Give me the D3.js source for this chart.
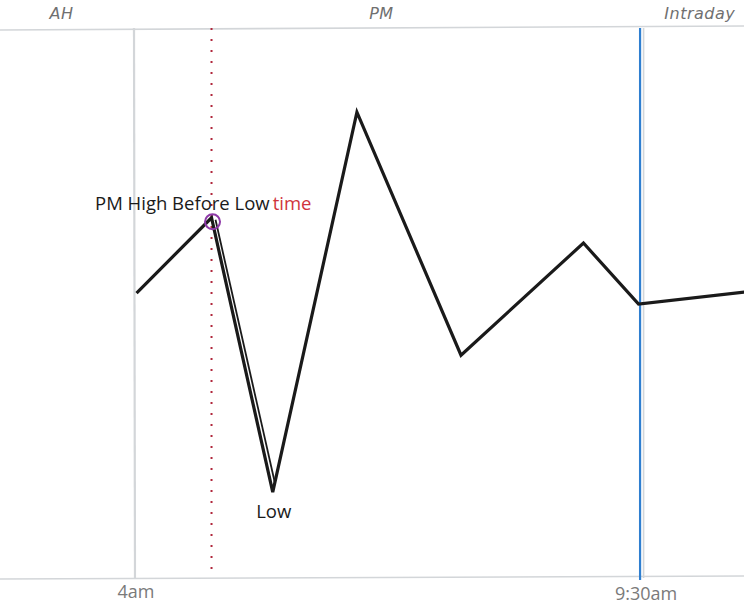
<!DOCTYPE html>
<html><head><meta charset="utf-8">
<script src="https://cdn.jsdelivr.net/npm/d3@7"></script>
<style>body{margin:0;background:#fff}svg{display:block}</style>
</head><body>
<svg id="c" width="744" height="606"></svg>
<script>
// time in minutes since midnight
const times = [241, 290, 330, 385, 453, 533, 569, 638];
const prices = [51.8, 65.5, 15.6, 84.7, 40.5, 60.9, 49.8, 52.0];
const sessionLabels = ["AH", "PM", "Intraday"];
const sessionLabelTimes = [192, 401, 609];
const tickTimes = [240, 570];
const tickLabels = ["4am", "9:30am"];
const markerTime = 290;
const highIndex = 1, lowIndex = 2;

const svg = d3.select("#c");
const x = d3.scaleLinear().domain([151.8, 637.9]).range([0, 744]);
const y = d3.scaleLinear().domain([0, 100]).range([578, 28]);

const grey = "#d3d6d9";
// frame lines
svg.append("line").attr("x1", 0).attr("y1", 30).attr("x2", 744).attr("y2", 26)
  .attr("stroke", grey).attr("stroke-width", 1.6);
svg.append("line").attr("x1", 0).attr("y1", 579).attr("x2", 744).attr("y2", 576)
  .attr("stroke", grey).attr("stroke-width", 1.6);
// session separators
svg.append("line").attr("x1", x(240) - 1).attr("y1", 28).attr("x2", x(240)).attr("y2", 578)
  .attr("stroke", grey).attr("stroke-width", 2.2);
svg.append("line").attr("x1", x(tickTimes[1]) + 3.5).attr("y1", 28).attr("x2", x(tickTimes[1]) + 3.5).attr("y2", 578)
  .attr("stroke", grey).attr("stroke-width", 1.6);
svg.append("line").attr("x1", x(tickTimes[1])).attr("y1", 28).attr("x2", x(tickTimes[1])).attr("y2", 580)
  .attr("stroke", "#2f7fd0").attr("stroke-width", 2.2);
// red dotted marker
svg.append("line").attr("x1", x(markerTime)).attr("y1", 28).attr("x2", x(markerTime)).attr("y2", 578)
  .attr("stroke", "#b0283c").attr("stroke-width", 2).attr("stroke-dasharray", "2,9");

// session labels
svg.selectAll(".sess").data(sessionLabels).enter().append("text")
  .attr("x", (d, i) => x(sessionLabelTimes[i])).attr("y", 19)
  .attr("text-anchor", "middle").attr("font-family", "DejaVu Sans").attr("font-style", "italic")
  .attr("font-size", 16).attr("fill", "#707070").attr("letter-spacing", 0.5).text(d => d);

// tick labels
svg.selectAll(".tick").data(tickLabels).enter().append("text")
  .attr("x", (d, i) => x(tickTimes[i]) + (i ? 6 : 1)).attr("y", (d, i) => i ? 600 : 598)
  .attr("text-anchor", "middle").attr("font-family", "Open Sans").attr("font-size", 18)
  .attr("fill", "#7a7a7a").text(d => d);

// price line
const pts = times.map((t, i) => [x(t), y(prices[i])]);
const line = d3.line();
svg.append("path").attr("d", line(pts)).attr("fill", "none").attr("stroke", "#1a1a1a")
  .attr("stroke-width", 3.2).attr("stroke-linejoin", "miter");
// sketchy double stroke on drop
svg.append("path").attr("d", line([[pts[1][0] + 4, pts[1][1] + 2], [pts[2][0] + 2, pts[2][1] - 10]]))
  .attr("fill", "none").attr("stroke", "#1a1a1a").attr("stroke-width", 1.8);

// high marker
svg.append("circle").attr("cx", pts[highIndex][0] + 1).attr("cy", pts[highIndex][1] + 4).attr("r", 7.5)
  .attr("fill", "none").attr("stroke", "#8e3aa8").attr("stroke-width", 2);

// annotations
const ann = svg.append("text").attr("x", 95).attr("y", 210).attr("font-family", "Open Sans")
  .attr("font-size", 18.5).attr("fill", "#1a1a1a");
ann.append("tspan").text("PM High Before Low");
ann.append("tspan").attr("dx", 3).attr("fill", "#d0343c").text("time");
svg.append("text").attr("x", pts[lowIndex][0] + 1).attr("y", 518).attr("text-anchor", "middle")
  .attr("font-family", "Open Sans").attr("font-size", 18.5).attr("fill", "#1a1a1a").text("Low");
</script>
</body></html>
